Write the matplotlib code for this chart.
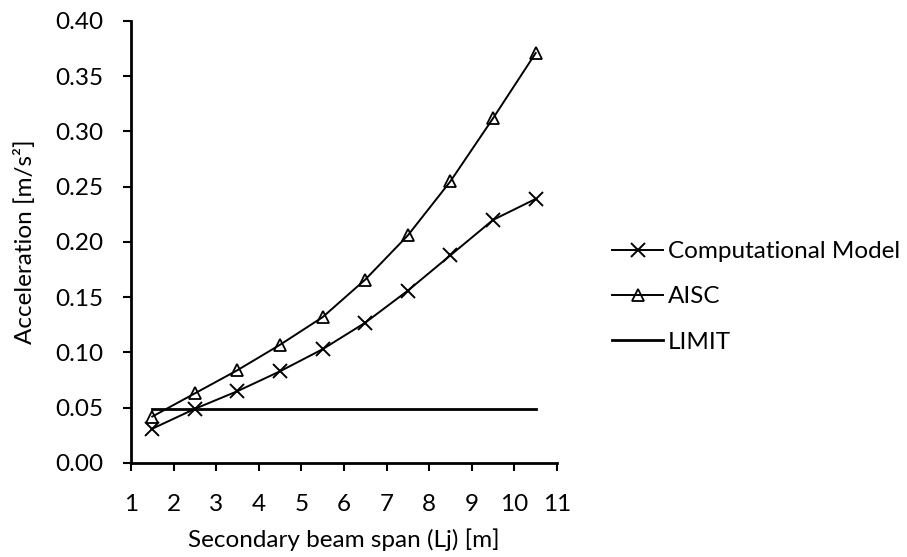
import matplotlib
matplotlib.use('Agg')
import matplotlib.pyplot as plt

plt.rcParams['font.family'] = ['Lato', 'DejaVu Sans']

span = [1.5, 2.5, 3.5, 4.5, 5.5, 6.5, 7.5, 8.5, 9.5, 10.5]
computational = [0.031, 0.049, 0.065, 0.083, 0.103, 0.127, 0.156, 0.188, 0.220, 0.239]
aisc = [0.042, 0.063, 0.084, 0.107, 0.132, 0.166, 0.206, 0.255, 0.312, 0.371]
limit = [0.049] * len(span)

fig = plt.figure(figsize=(9.07, 5.57), dpi=100)
ax = fig.add_axes([0.1444, 0.1688, 0.4697, 0.7935])

ax.plot(span, computational, color='black', linewidth=1.4, marker='x',
        markersize=10, markeredgewidth=1.4, label='Computational Model')
ax.plot(span, aisc, color='black', linewidth=1.4, marker='^', fillstyle='none',
        markersize=9, markeredgewidth=1.3, label='AISC')
ax.plot(span, limit, color='black', linewidth=2, label='LIMIT')

ax.set_xlim(1, 11)
ax.set_ylim(0, 0.40)
ax.set_xticks(range(1, 12))
ax.set_yticks([i * 0.05 for i in range(9)])
ax.set_yticklabels(['%.2f' % (i * 0.05) for i in range(9)])
ax.tick_params(direction='out', length=6, width=1.5, labelsize=17.5, colors='black')
ax.tick_params(axis='y', pad=14)
ax.tick_params(axis='x', pad=16)
for s in ['top', 'right']:
    ax.spines[s].set_visible(False)
for s in ['left', 'bottom']:
    ax.spines[s].set_linewidth(2)

ax.set_xlabel('Secondary beam span (Lj) [m]', fontsize=17.5, labelpad=10)
ax.set_ylabel('Acceleration [m/s²]', fontsize=17.5, labelpad=14)

ax.legend(loc='center left', bbox_to_anchor=(0.675, 0.467), bbox_transform=fig.transFigure,
          frameon=False, borderpad=0, borderaxespad=0, fontsize=17.5,
          handlelength=2.1, handletextpad=0.2, labelspacing=1.0)

fig.savefig('out.png', dpi=100)
